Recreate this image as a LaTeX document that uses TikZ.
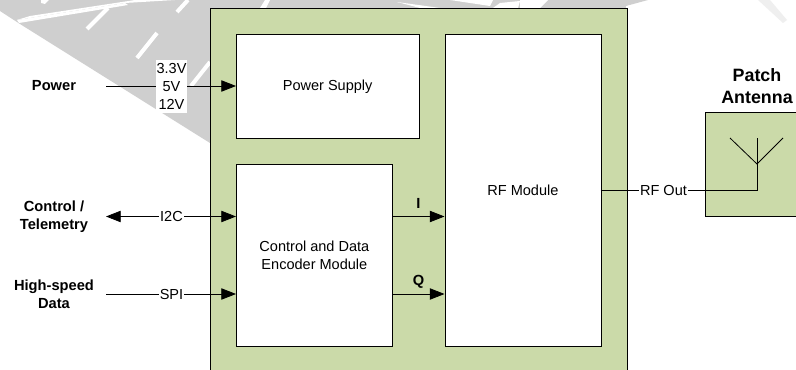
\documentclass[tikz,border=0pt]{standalone}
\usepackage{fontspec}
\setmainfont{Liberation Sans}
\usetikzlibrary{arrows.meta}
\definecolor{panel}{HTML}{CBDAA9}
\definecolor{wm}{HTML}{CFCFCF}
\definecolor{wmlight}{HTML}{EFEFEF}
\tikzset{
 x=0.75pt,y=-0.75pt,
 box/.style={draw=black,line width=0.6pt,fill=white,anchor=north west,inner sep=0,font=\fontsize{10.9pt}{13.4pt}\selectfont,align=center},
 greenbox/.style={draw=black,line width=0.6pt,fill=panel,anchor=north west,inner sep=0},
 lab/.style={inner sep=0,font=\fontsize{11pt}{13.5pt}\selectfont\bfseries,align=center},
 biglab/.style={inner sep=0,font=\fontsize{13.4pt}{16.5pt}\selectfont\bfseries,align=center},
 sig/.style={inner sep=0.6pt,font=\fontsize{10.9pt}{13.2pt}\selectfont,align=center},
 wire/.style={draw=black,line width=0.6pt},
 arr/.style={wire,-{Triangle[length=11pt,width=8.5pt]}},
 darr/.style={wire,{Triangle[length=11pt,width=8.5pt]}-{Triangle[length=11pt,width=8.5pt]}},
 stripe/.style={draw=white,line width=3pt}
}
\begin{document}
\begin{tikzpicture}
\useasboundingbox (0,0) rectangle (796,370);
\fill[white] (0,0) rectangle (796,370);
\fill[wm] (0,0) -- (0,11) -- (20,24) -- (210,143) -- (210,0) -- cycle;
\fill[wm] (210,0) rectangle (626,9);
\fill[wm] (626,0) -- (626,6) -- (648,0) -- cycle;
\fill[wmlight] (758,0) -- (770,0) -- (787,20) -- (783,23) -- cycle;
% white strokes of the watermark
\fill[white] (17,20) -- (125,3) -- (175,0) -- (135,0) -- (30,16) -- cycle;
\fill[white] (19,23) -- (17,20) -- (125,3) -- (128,5) -- cycle;
\fill[white] (41,0) -- (49,0) -- (45,4) -- (41,3) -- cycle;
\draw[stripe] (87,29) -- (108,8);
\draw[stripe] (137,58) -- (157,33);
\draw[stripe] (177,12) -- (188,0);
\draw[stripe] (191,86) -- (210,62);
\fill[white] (260,8) -- (265,0) -- (270,0) -- (266,8) -- cycle;
\fill[white] (397,2) -- (440,8) -- (420,8) -- cycle;
\fill[white] (450,0) -- (493,0) -- (490,6) -- cycle;
\fill[white] (493,8) -- (500,3) -- (520,1) -- (518,8) -- cycle;
\fill[white] (520,0) -- (548,0) -- (540,8) -- (520,8) -- cycle;

\node[greenbox,minimum width=416.5*0.75pt,minimum height=380*0.75pt] (outer) at (210,8.5) {};
\node[box,minimum width=182.5*0.75pt,minimum height=103.5*0.75pt] (ps) at (236,34.5) {Power Supply};
\node[box,minimum width=156*0.75pt,minimum height=181.5*0.75pt] (enc) at (236,164.5) {Control and Data\\Encoder Module};
\node[box,minimum width=156*0.75pt,minimum height=311.5*0.75pt] (rf) at (444.5,34.5) {RF Module};
\node[greenbox,minimum width=100*0.75pt,minimum height=104*0.75pt] (patch) at (704.5,112) {};

\node[lab] (power) at (54,86) {Power};
\node[lab] (ctl) at (54,216.5) {Control /\\Telemetry};
\node[lab] (hs) at (54,294.5) {High-speed\\Data};
\node[biglab] (pa) at (757,86) {Patch\\Antenna};

\coordinate (pin) at (106,86);
\coordinate (cin) at (106,216.5);
\coordinate (sin) at (106,294);
\coordinate (enci) at (392,216.5);
\coordinate (encq) at (392,294);
\coordinate (rfi) at (444.5,216.5);
\coordinate (rfq) at (444.5,294);
\coordinate (psin) at (236,86);
\coordinate (enctop) at (236,216.5);
\coordinate (encbot) at (236,294);
\coordinate (rfo) at (600.5,190);
\coordinate (ant) at (757,190);
\coordinate (antj) at (757,164);
\coordinate (antt) at (757,138);
\coordinate (antl) at (730,138);
\coordinate (antr) at (783,138);

\draw[arr] (pin) -- (psin);
\draw[darr] (cin) -- (enctop);
\draw[arr] (sin) -- (encbot);
\draw[arr] (enci) -- (rfi);
\draw[arr] (encq) -- (rfq);
\draw[wire] (rfo) -- (ant) -- (antt);
\draw[wire] (antl) -- (antj) -- (antr);

\node[sig,fill=white,minimum width=31*0.75pt,minimum height=53*0.75pt] (volt) at (171.5,86.5) {3.3V\\5V\\12V};
\node[sig,fill=white] (i2c) at (171.5,216.5) {I2C};
\node[sig,fill=white] (spi) at (171.5,294) {SPI};
\node[sig,fill=white] (rfout) at (663.5,190) {RF Out};
\node[lab] (il) at (418.5,203) {I};
\node[lab] (ql) at (418.5,281.5) {Q};
\end{tikzpicture}
\end{document}
